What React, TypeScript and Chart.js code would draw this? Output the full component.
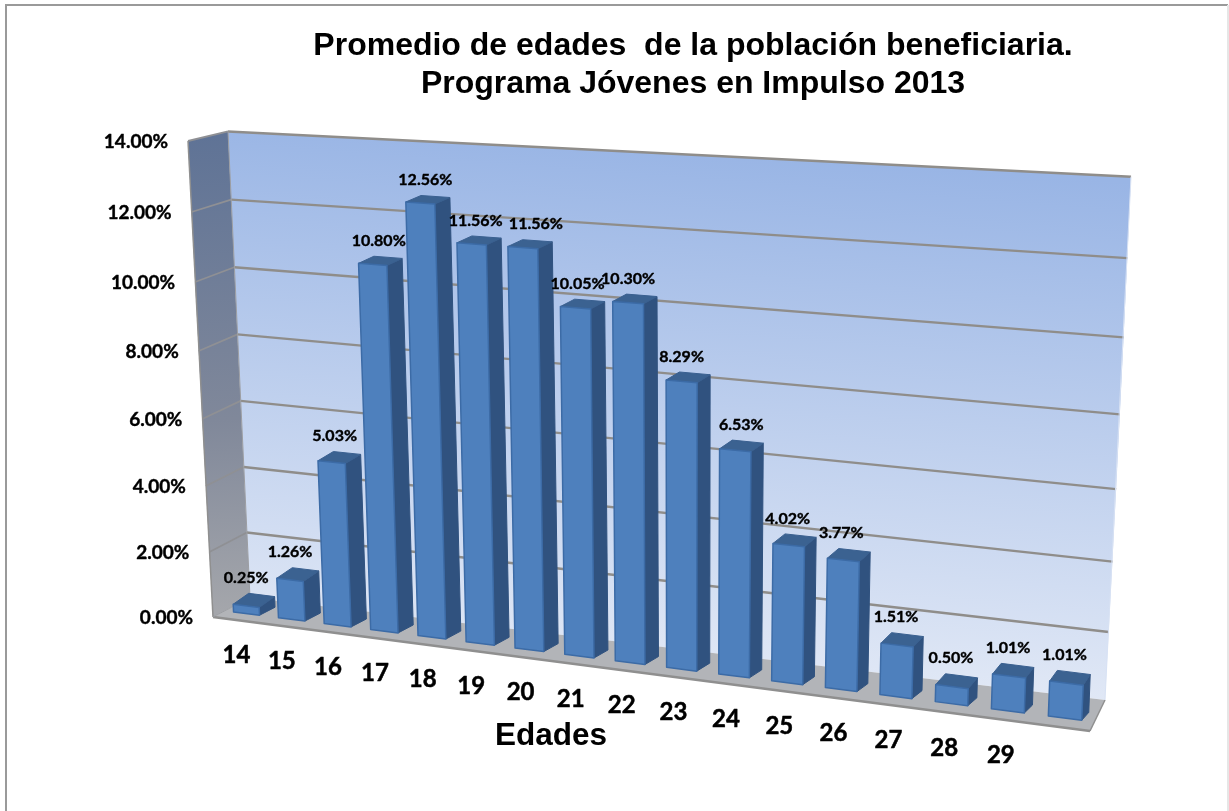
import React, { useEffect, useRef } from "react";
import { Chart, BarController, BarElement, CategoryScale, LinearScale, Title } from "chart.js";

const chartTitle = ["Promedio de edades  de la población beneficiaria.", "Programa Jóvenes en Impulso 2013"];
const xAxisTitle = "Edades";
const ages = ["14", "15", "16", "17", "18", "19", "20", "21", "22", "23", "24", "25", "26", "27", "28", "29", ""];
const percentages = [0.25, 1.26, 5.03, 10.8, 12.56, 11.56, 11.56, 10.05, 10.3, 8.29, 6.53, 4.02, 3.77, 1.51, 0.5, 1.01, 1.01];
const labelNudges = [0, 0, 3, 6, 5, 4, 13, 2, 0, 0, 6, -1, -2, -1, -1, -1, -2];

const LABEL_FONT = "Lato, sans-serif";

// projection of the chart's (category, value) plane into the tilted 3D view
const bottomX = (t: number) => 246.5 + 44.74 * t + 0.401 * t * t;
const bottomY = (x: number) => 612 + 0.1278 * (x - 234);
const rise = (x: number, v: number) => v * (30.8 + 0.0045 * (x - 234) + 0.23 * v);
const lean = (x: number) => 0.0476 - 0.000106 * (x - 234);
const frontPoint = (t: number, v: number): [number, number] => {
  const x = bottomX(t);
  const h = rise(x, v);
  return [x - h * lean(x), bottomY(x) - h];
};
const depthX = (x: number) => {
  const f = (x - 234) / 850;
  return 15.5 - 8.5 * f * f;
};
const wallLeft = (v: number): [number, number] => [250 - (22 * v) / 14, 597.5 - 32.37 * v - 0.0655 * v * v];
const wallRight = (v: number): [number, number] => [1105 + (26 * v) / 14, 700 - 33.46 * v - 0.28 * v * v];
const sideOuter = (v: number): [number, number] => [213 - (25 * v) / 14, 617 - 32.25 * v - 0.125 * v * v];

const poly = (ctx: CanvasRenderingContext2D, pts: [number, number][]) => {
  ctx.beginPath();
  pts.forEach((p, i) => (i ? ctx.lineTo(p[0], p[1]) : ctx.moveTo(p[0], p[1])));
  ctx.closePath();
};
const line = (ctx: CanvasRenderingContext2D, a: [number, number], b: [number, number]) => {
  ctx.beginPath();
  ctx.moveTo(a[0], a[1]);
  ctx.lineTo(b[0], b[1]);
  ctx.stroke();
};
const heavyText = (ctx: CanvasRenderingContext2D, text: string, x: number, y: number) => {
  ctx.fillText(text, x, y);
  ctx.strokeText(text, x, y);
};

const toIndex = (chart: any, px: number) => {
  const xs = chart.scales.x;
  return (px - xs.left) / ((xs.right - xs.left) / chart.data.labels.length) - 0.5;
};

const barGeometry = (chart: any, el: any) => {
  const { x, y, width } = el.getProps(["x", "y", "width"], true);
  const v = chart.scales.y.getValueForPixel(y);
  const tL = toIndex(chart, x - width / 2);
  const tR = toIndex(chart, x + width / 2);
  const tl = frontPoint(tL, v);
  const tr = frontPoint(tR, v);
  const bl = frontPoint(tL, 0);
  const br = frontPoint(tR, 0);
  const dTop = -(11 - 0.36 * v);
  const dBottom = -8;
  const back = (p: [number, number], dy: number): [number, number] => [p[0] + depthX(p[0]), p[1] + dy];
  return { tl, tr, bl, br, btl: back(tl, dTop), btr: back(tr, dTop), bbr: back(br, dBottom) };
};

class Bar3DElement extends BarElement {
  static id = "bar3dBox";
  draw(ctx: CanvasRenderingContext2D) {
    const chart = Chart.getChart(ctx.canvas);
    const g = barGeometry(chart, this);
    ctx.save();
    ctx.lineJoin = "round";
    ctx.lineWidth = 1;
    ctx.fillStyle = "#30527f";
    ctx.strokeStyle = "#30527f";
    poly(ctx, [g.tr, g.btr, g.bbr, g.br]);
    ctx.fill();
    ctx.stroke();
    ctx.fillStyle = "#3b6291";
    ctx.strokeStyle = "#3a6090";
    poly(ctx, [g.tl, g.btl, g.btr, g.tr]);
    ctx.fill();
    ctx.stroke();
    ctx.fillStyle = "#4e80bd";
    ctx.strokeStyle = "#3c6ba6";
    ctx.lineWidth = 1.5;
    poly(ctx, [g.tl, g.tr, g.br, g.bl]);
    ctx.fill();
    ctx.stroke();
    ctx.restore();
  }
}

class Bar3DController extends BarController {
  static id = "bar3d";
  static defaults = { ...BarController.defaults, dataElementType: "bar3dBox" };
  static overrides = BarController.overrides;
}

const scenePlugin = {
  id: "scene3d",
  beforeDraw(chart: any) {
    const ctx: CanvasRenderingContext2D = chart.ctx;
    ctx.save();
    ctx.fillStyle = "#ffffff";
    ctx.fillRect(0, 0, chart.width, chart.height);
    ctx.strokeStyle = "#9a9a9a";
    ctx.lineWidth = 2;
    ctx.beginPath();
    ctx.moveTo(6, chart.height);
    ctx.lineTo(6, 5);
    ctx.lineTo(1228, 5);
    ctx.stroke();
    ctx.strokeStyle = "#e6e6e6";
    line(ctx, [1228, 5], [1228, chart.height]);
    ctx.restore();
  },
  beforeDatasetsDraw(chart: any) {
    const ctx: CanvasRenderingContext2D = chart.ctx;
    const ticks = chart.scales.y.ticks.map((t: any) => t.value) as number[];
    const top = ticks[ticks.length - 1];
    const rev = [...ticks].reverse();
    ctx.save();

    // back wall
    const wall = ctx.createLinearGradient(700, 150, 660, 680);
    wall.addColorStop(0, "#99b5e5");
    wall.addColorStop(1, "#e2e9f6");
    ctx.fillStyle = wall;
    poly(ctx, [...ticks.map(wallLeft), ...rev.map(wallRight)]);
    ctx.fill();

    // side wall
    const side = ctx.createLinearGradient(200, 135, 230, 610);
    side.addColorStop(0, "#5f7396");
    side.addColorStop(0.6, "#80889a");
    side.addColorStop(1, "#a4a6ab");
    ctx.fillStyle = side;
    poly(ctx, [...ticks.map(wallLeft), ...rev.map(sideOuter)]);
    ctx.fill();

    // floor
    const floorRight: [number, number] = [1090, 731];
    ctx.fillStyle = "#b2b4b8";
    poly(ctx, [sideOuter(0), wallLeft(0), wallRight(0), floorRight]);
    ctx.fill();

    // gridlines from the value scale's ticks
    ticks.forEach((v) => {
      if (v <= 0) return;
      ctx.strokeStyle = "#8f8d8a";
      ctx.lineWidth = 2.4;
      line(ctx, wallLeft(v), wallRight(v));
      ctx.lineWidth = 1.8;
      ctx.strokeStyle = "#8f9094";
      line(ctx, sideOuter(v), wallLeft(v));
    });
    ctx.strokeStyle = "#8f8f8f";
    ctx.lineWidth = 2.4;
    line(ctx, sideOuter(0), floorRight);
    ctx.lineWidth = 1.5;
    line(ctx, floorRight, wallRight(0));
    line(ctx, sideOuter(0), sideOuter(top));
    ctx.lineWidth = 1;
    ctx.strokeStyle = "#9c9ea3";
    line(ctx, sideOuter(0), wallLeft(0));
    line(ctx, wallLeft(0), wallLeft(top));
    ctx.strokeStyle = "#d8e2f4";
    line(ctx, wallRight(0), wallRight(top));
    ctx.restore();
  },
  afterDatasetsDraw(chart: any) {
    const ctx: CanvasRenderingContext2D = chart.ctx;
    const meta = chart.getDatasetMeta(0);
    ctx.save();
    ctx.fillStyle = "#000000";
    ctx.strokeStyle = "#000000";
    ctx.lineWidth = 0.4;
    ctx.lineJoin = "round";
    ctx.textAlign = "center";
    ctx.textBaseline = "middle";

    // value labels above each bar
    ctx.font = `bold 16px ${LABEL_FONT}`;
    meta.data.forEach((el: any, i: number) => {
      const g = barGeometry(chart, el);
      const cx = (g.tl[0] + g.tr[0]) / 2 + labelNudges[i];
      heavyText(ctx, `${chart.data.datasets[0].data[i].toFixed(2)}%`, cx, g.btl[1] - 15.5);
    });

    // value-axis tick labels down the outer edge of the side wall
    ctx.font = `bold 19px ${LABEL_FONT}`;
    ctx.textAlign = "right";
    chart.scales.y.ticks.forEach((t: any) => {
      const p = sideOuter(t.value);
      heavyText(ctx, t.label, p[0] - 20, p[1] + 1);
    });

    // category labels under the floor
    ctx.font = `bold 24px ${LABEL_FONT}`;
    ctx.textAlign = "center";
    ctx.lineWidth = 0.5;
    chart.data.labels.forEach((label: string, i: number) => {
      const x = bottomX(i) - 10 + (3 * i) / 15;
      heavyText(ctx, label, x, 655 + 0.131 * (x - 236));
    });

    // category-axis title
    ctx.font = 'bold 31.5px "Liberation Sans", Arial, sans-serif';
    ctx.fillText(xAxisTitle, 551, 736);
    ctx.restore();
  },
};

Chart.register(Bar3DController, Bar3DElement, CategoryScale, LinearScale, Title);

export default function App() {
  const ref = useRef<HTMLCanvasElement>(null);
  useEffect(() => {
    if (!ref.current) return;
    const chart = new Chart(ref.current, {
      type: "bar3d" as any,
      data: {
        labels: ages,
        datasets: [{ data: percentages, backgroundColor: "#4f81bd", barPercentage: 0.58, categoryPercentage: 1 }],
      },
      options: {
        animation: false,
        responsive: false,
        events: [],
        layout: { padding: { left: 230, right: 73, top: 0, bottom: 60 } },
        plugins: {
          title: {
            display: true,
            text: chartTitle,
            fullSize: false,
            color: "#000000",
            font: { family: '"Liberation Sans", Arial, sans-serif', size: 32, weight: "bold", lineHeight: 1.19 },
            padding: { top: 27, bottom: 10 },
          },
        },
        scales: {
          x: { type: "category", display: false, offset: true, ticks: { autoSkip: false } },
          y: {
            type: "linear",
            display: false,
            min: 0,
            max: 14,
            ticks: { stepSize: 2, callback: (v: any) => `${Number(v).toFixed(2)}%` },
          },
        },
      } as any,
      plugins: [scenePlugin],
    });
    return () => chart.destroy();
  }, []);
  return <canvas ref={ref} width={1229} height={811} style={{ position: "fixed", left: 0, top: 0, display: "block" }} />;
}
